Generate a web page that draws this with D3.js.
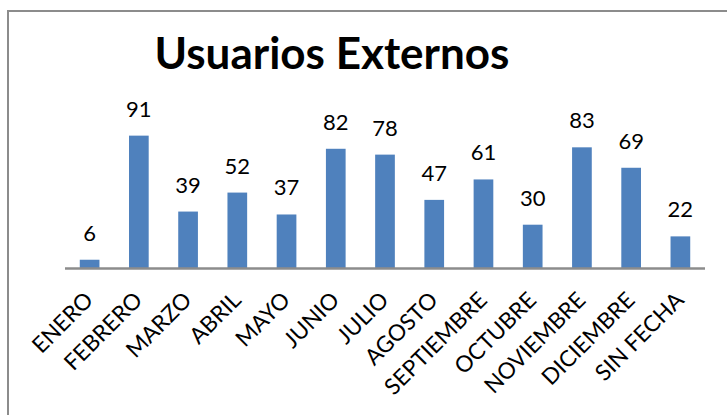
<!DOCTYPE html>
<html><head><meta charset="utf-8">
<script src="https://cdn.jsdelivr.net/npm/d3@7"></script>
<style>html,body{margin:0;padding:0;background:#fff;} svg{display:block;}</style>
</head><body>
<svg id="c" width="727" height="415"></svg>
<script>
const title = "Usuarios Externos";
const categories = ["ENERO","FEBRERO","MARZO","ABRIL","MAYO","JUNIO","JULIO","AGOSTO","SEPTIEMBRE","OCTUBRE","NOVIEMBRE","DICIEMBRE","SIN FECHA"];
const values = [6,91,39,52,37,82,78,47,61,30,83,69,22];
const yDomain = [0,100];

const svg = d3.select("#c");
const font = "Lato, 'Open Sans', sans-serif";

// frame
svg.append("rect").attr("x",8).attr("y",11).attr("width",740).attr("height",420)
  .attr("fill","none").attr("stroke","#8c8c8c").attr("stroke-width",2);

const x = d3.scaleBand().domain(categories).range([65,705]).paddingInner(0.6).paddingOuter(0.3);
const y = d3.scaleLinear().domain(yDomain).range([268.5,122.5]);

svg.append("text").attr("x",332).attr("y",69).attr("text-anchor","middle")
  .attr("font-family",font).attr("font-weight","bold").attr("font-size",44)
  .attr("fill","#000").text(title);

svg.selectAll("rect.bar").data(values).enter().append("rect").attr("class","bar")
  .attr("x",(d,i)=>x(categories[i])).attr("width",x.bandwidth())
  .attr("y",d=>y(d)).attr("height",d=>y(0)-y(d))
  .attr("fill","#4F81BD");

svg.selectAll("text.val").data(values).enter().append("text").attr("class","val")
  .attr("x",(d,i)=>x(categories[i])+x.bandwidth()/2).attr("y",d=>y(d)-19)
  .attr("text-anchor","middle").attr("font-family",font).attr("font-size",22)
  .attr("fill","#000").text(d=>d);

const xAxis = d3.axisBottom(x).tickSize(0).tickPadding(0);
const gx = svg.append("g").attr("transform",`translate(0,${y(0)})`).call(xAxis);
gx.select(".domain").attr("stroke","#8c8c8c").attr("stroke-width",2.5)
  .attr("d","M65,0H705");
gx.selectAll(".tick text")
  .attr("font-family",font).attr("font-size",22.5).attr("fill","#000")
  .attr("text-anchor","end").attr("dy",null).attr("y",0)
  .attr("transform","translate(5,33) rotate(-45)");
</script>
</body></html>
